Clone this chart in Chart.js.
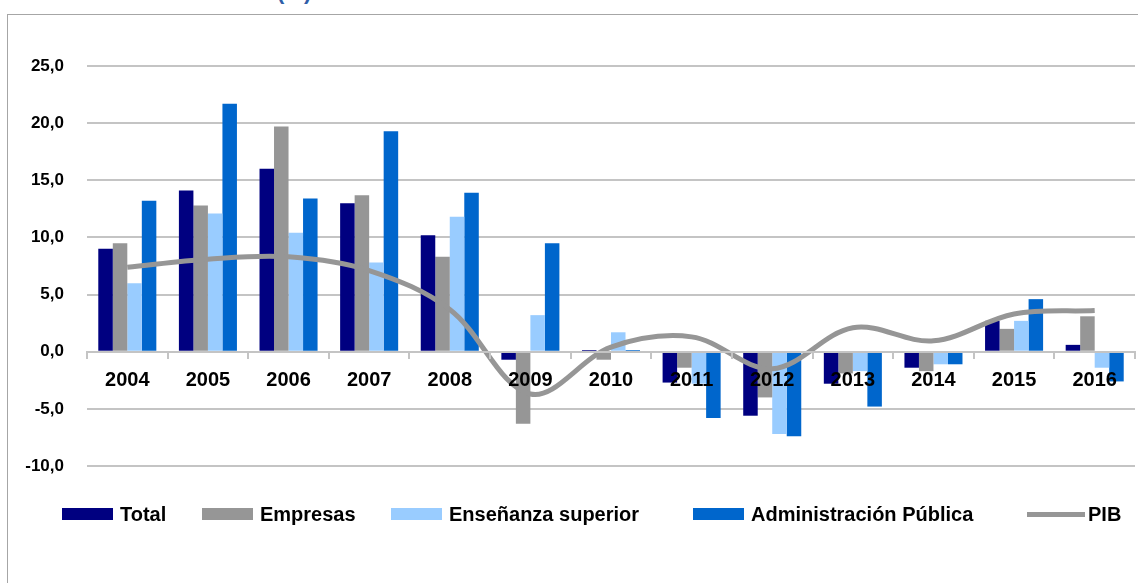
<!DOCTYPE html>
<html><head><meta charset="utf-8">
<script src="https://cdn.jsdelivr.net/npm/chart.js@4.4.0/dist/chart.umd.min.js"></script>
<style>
html,body{margin:0;padding:0;background:#fff;width:1138px;height:583px;overflow:hidden;font-family:"Liberation Sans",Arial,sans-serif}
#frame{position:absolute;left:7px;top:14px;right:0;bottom:0;border-left:1px solid #A6A6A6;border-top:1px solid #A6A6A6}
#title{position:absolute;left:277px;top:-19px;font-size:22px;line-height:22px;font-weight:bold;color:#2F5EA8;white-space:nowrap}
#c{position:absolute;left:0;top:0}
#legend{position:absolute;top:504px;left:0;width:1138px;height:20px;font-weight:bold;font-size:20px;color:#000}
.item{position:absolute;top:0;height:20px;display:flex;align-items:center;white-space:nowrap}
.sw{width:51px;height:12px;margin-right:7px}
.ln{width:58px;height:5px;margin-right:3px}
</style></head>
<body>
<div id="title">(%)</div>
<div id="frame"></div>
<canvas id="c" width="1138" height="583"></canvas>
<div id="legend"></div>
<script>
const categories = ['2004','2005','2006','2007','2008','2009','2010','2011','2012','2013','2014','2015','2016'];
const total          = [9.0, 14.1, 16.0, 13.0, 10.2, -0.7, 0.15, -2.7, -5.6, -2.8, -1.4, 2.7, 0.6];
const empresas       = [9.5, 12.8, 19.7, 13.7, 8.3, -6.3, -0.7, -1.4, -4.0, -1.9, -1.7, 2.0, 3.1];
const ensenanza      = [6.0, 12.1, 10.4, 7.8, 11.8, 3.2, 1.7, -2.8, -7.2, -1.7, -1.1, 2.7, -1.4];
const administracion = [13.2, 21.7, 13.4, 19.3, 13.9, 9.5, 0.15, -5.8, -7.4, -4.8, -1.1, 4.6, -2.6];
const pib            = [7.4, 8.1, 8.3, 7.1, 3.7, -3.7, 0.4, 1.3, -1.5, 2.1, 0.95, 3.3, 3.6];
const seriesNames = ['Total','Empresas','Enseñanza superior','Administración Pública','PIB'];
const yMin = -10, yMax = 25, yStep = 5;

const colors = ['#000080','#969696','#99CCFF','#0066CC','#969696'];
const legendLeft = [62, 202, 391, 693, 1027];
const FONT = '"Liberation Sans", Arial, sans-serif';

const barSeries = [total, empresas, ensenanza, administracion];
const datasets = barSeries.map((d, i) => ({
  type: 'bar', label: seriesNames[i], data: d, backgroundColor: colors[i],
  borderWidth: 0, barPercentage: 1, categoryPercentage: 0.72, order: 1
}));
datasets.push({
  type: 'line', label: seriesNames[4], data: pib, borderColor: colors[4],
  borderWidth: 5, tension: 0.35, pointRadius: 0, fill: false, order: 0,
  borderCapStyle: 'butt'
});

const chart = new Chart(document.getElementById('c'), {
  type: 'bar',
  data: { labels: categories, datasets },
  options: {
    responsive: false, animation: false, devicePixelRatio: 1,
    layout: { padding: { top: 66, bottom: 117, left: 7, right: 3 } },
    plugins: { legend: { display: false }, tooltip: { enabled: false }, title: { display: false } },
    scales: {
      y: {
        min: yMin, max: yMax,
        afterFit: s => { s.width = 80; },
        ticks: { stepSize: yStep, padding: 23, color: '#000',
          font: { family: FONT, size: 17, weight: 'bold' },
          callback: v => v.toFixed(1).replace('.', ',') },
        grid: { color: '#C4C4C4', lineWidth: 2, drawTicks: false },
        border: { display: false }
      },
      x: {
        position: { y: 0 },
        grid: { offset: true, drawOnChartArea: false, tickLength: 6, color: '#C4C4C4', lineWidth: 2, z: 1 },
        border: { display: true, color: '#C4C4C4', width: 2, z: 1 },
        ticks: { color: '#000', padding: 11, maxRotation: 0, autoSkip: false, z: 2,
          font: { family: FONT, size: 20, weight: 'bold' } }
      }
    }
  }
});

const lg = document.getElementById('legend');
chart.data.datasets.forEach((ds, i) => {
  const it = document.createElement('div');
  it.className = 'item';
  it.style.left = legendLeft[i] + 'px';
  const sw = document.createElement('div');
  sw.className = ds.type === 'line' ? 'ln' : 'sw';
  sw.style.background = ds.type === 'line' ? ds.borderColor : ds.backgroundColor;
  const tx = document.createElement('span');
  tx.textContent = ds.label;
  it.appendChild(sw); it.appendChild(tx);
  lg.appendChild(it);
});
</script>
</body></html>
